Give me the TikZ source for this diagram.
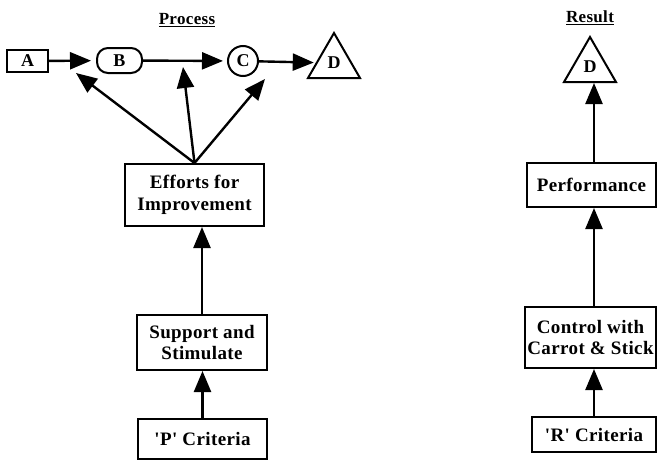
\documentclass[tikz,border=0pt]{standalone}
\usepackage{fontspec}
\setmainfont{Liberation Serif}
\newfontfamily\spacedserif[LetterSpace=2]{Liberation Serif}
\newcommand\boxfont{\spacedserif\bfseries\fontsize{19}{21.5}\selectfont}
\newcommand\lblfont{\rmfamily\bfseries\fontsize{18}{20}\selectfont}
\newcommand\headfont{\spacedserif\bfseries\fontsize{17}{19}\selectfont}
\usetikzlibrary{arrows.meta,shapes.geometric}
\begin{document}
\begin{tikzpicture}[x=1pt,y=-1pt,
  box/.style={draw,line width=2pt,inner sep=0pt,align=center,font=\boxfont},
  lblbox/.style={draw,line width=2pt,inner sep=0pt,font=\lblfont},
  tri/.style={draw,line width=2pt,regular polygon,regular polygon sides=3,
    minimum size=60pt,inner sep=0pt,font=\lblfont},
  arr/.style={line width=2.4pt,-{Triangle[length=21pt,width=17pt]}},
  head/.style={font=\headfont,inner sep=0pt}]
\useasboundingbox (0,0) rectangle (659,461);

% ---- process chain ----
\node[head] (proc) at (187,20) {\underline{Process}};
\node[lblbox,minimum width=41pt,minimum height=22pt] (a) at (27.5,61) {A};
\node[lblbox,rounded corners=11pt,minimum width=45pt,minimum height=25pt] (b) at (119.5,60.5) {B};
\node[lblbox,circle,minimum size=30pt] (c) at (243,61) {C};
\node[tri] (d) at (334,63) {\raisebox{-4pt}{D}};

\draw[arr,shorten >=5pt] (a) -- (b);
\draw[arr,shorten >=4pt] (b) -- (c);
\draw[arr,shorten >=2pt] (c) -- (d);

% ---- process column ----
\node[box,minimum width=139pt,minimum height=62pt] (eff) at (194.5,195) {Efforts for\\Improvement};
\node[box,minimum width=130pt,minimum height=55pt] (sup) at (202,342.5) {Support and\\Stimulate};
\node[box,minimum width=129pt,minimum height=40pt] (pc) at (202.5,439) {'P' Criteria};

\coordinate (tl) at (76,73);
\coordinate (tm) at (183,67);
\coordinate (tr) at (265,79);
\draw[arr] (eff.north) -- (tl);
\draw[arr] (eff.north) -- (tm);
\draw[arr] (eff.north) -- (tr);
\draw[arr] (sup.north) -- (sup.north |- eff.south);
\draw[arr] (pc.north) -- (pc.north |- sup.south);

% ---- result column ----
\node[head] (res) at (590,18) {\underline{Result}};
\node[tri] (d2) at (590,67) {\raisebox{-4pt}{D}};
\node[box,minimum width=129pt,minimum height=44pt] (perf) at (591.5,185) {Performance};
\node[box,minimum width=131pt,minimum height=61pt] (ctrl) at (590.5,337.5) {Control with\\Carrot \& Stick};
\node[box,minimum width=124pt,minimum height=35pt] (rc) at (594,434.5) {'R' Criteria};

\coordinate (rx) at (594,0);
\draw[arr] (rx |- perf.north) -- (rx |- d2.south);
\draw[arr] (rx |- ctrl.north) -- (rx |- perf.south);
\draw[arr] (rx |- rc.north) -- (rx |- ctrl.south);
\end{tikzpicture}
\end{document}
